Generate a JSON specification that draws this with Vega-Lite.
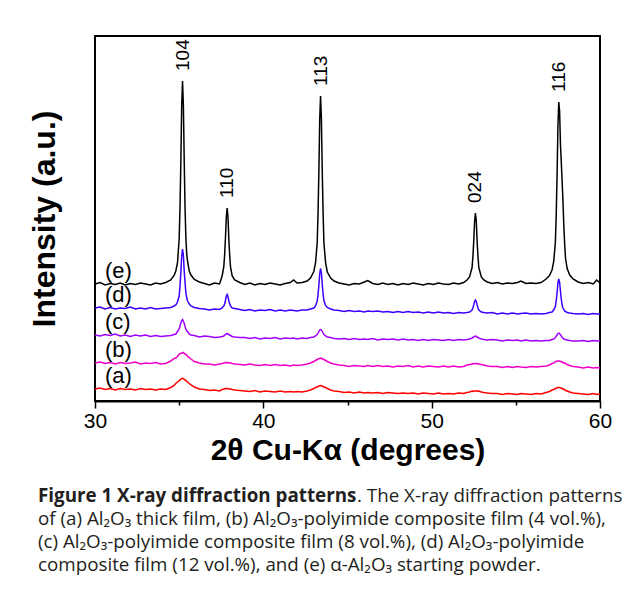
{
  "$schema": "https://vega.github.io/schema/vega-lite/v6.json",
  "background": "white",
  "padding": {"left": 27, "top": 35, "right": 0, "bottom": 0},
  "spacing": 18,
  "config": {"font": "Liberation Sans"},
  "vconcat": [
    {
      "width": 505,
      "height": 365,
      "view": {"stroke": "black", "strokeWidth": 2},
      "layer": [
        {
          "data": {"values": [
            {"x":30.0,"(a)":12,"(b)":38,"(c)":66,"(d)":93,"(e)":117},
            {"x":30.3,"(a)":13,"(b)":39,"(c)":65,"(d)":94,"(e)":118.5},
            {"x":30.6,"(a)":11.5,"(b)":37.5,"(c)":66.5,"(d)":92,"(e)":116},
            {"x":30.9,"(a)":12.5,"(b)":38.5,"(c)":65.5,"(d)":93.5,"(e)":117.5},
            {"x":31.2,"(a)":11,"(b)":37,"(c)":67,"(d)":92,"(e)":116.5},
            {"x":31.5,"(a)":12.5,"(b)":38.5,"(c)":65,"(d)":93,"(e)":118},
            {"x":31.8,"(a)":11.5,"(b)":37.5,"(c)":66,"(d)":92.5,"(e)":116},
            {"x":32.1,"(a)":12,"(b)":38,"(c)":64.5,"(d)":94,"(e)":117.5},
            {"x":32.4,"(a)":11,"(b)":39,"(c)":66,"(d)":92,"(e)":116.5},
            {"x":32.7,"(a)":12.5,"(b)":37,"(c)":65,"(d)":93,"(e)":118},
            {"x":33.0,"(a)":11.5,"(b)":38,"(c)":66,"(d)":92,"(e)":117},
            {"x":33.3,"(a)":12,"(b)":37.5,"(c)":64.5,"(d)":93.5,"(e)":116},
            {"x":33.6,"(a)":11,"(b)":38.5,"(c)":65.5,"(d)":92,"(e)":118},
            {"x":33.9,"(a)":12,"(b)":37,"(c)":64.5,"(d)":92.5,"(e)":117},
            {"x":34.2,"(a)":11.5,"(b)":37.5,"(c)":65,"(d)":93,"(e)":118.5},
            {"x":34.5,"(a)":13.5,"(b)":40,"(c)":65.5,"(d)":93.5,"(e)":121},
            {"x":34.7,"(a)":15.5,"(b)":42.5,"(c)":66.5,"(d)":95,"(e)":125.5},
            {"x":34.8,"(a)":17.5,"(b)":43,"(c)":67,"(d)":96,"(e)":130},
            {"x":34.9,"(a)":19,"(b)":44.5,"(c)":69.5,"(d)":99,"(e)":138},
            {"x":35.0,"(a)":20.5,"(b)":47,"(c)":72,"(d)":105,"(e)":162},
            {"x":35.05,"(a)":21,"(b)":47.5,"(c)":75,"(d)":115,"(e)":194},
            {"x":35.1,"(a)":22,"(b)":47.5,"(c)":78,"(d)":128,"(e)":239},
            {"x":35.15,"(a)":22.5,"(b)":48,"(c)":80.5,"(d)":145,"(e)":295},
            {"x":35.2,"(a)":22.5,"(b)":48,"(c)":81.5,"(d)":152,"(e)":320},
            {"x":35.25,"(a)":22.5,"(b)":48.5,"(c)":80,"(d)":146,"(e)":296},
            {"x":35.3,"(a)":21.5,"(b)":47.5,"(c)":77.5,"(d)":130,"(e)":240},
            {"x":35.35,"(a)":21,"(b)":47,"(c)":74.5,"(d)":118,"(e)":193},
            {"x":35.4,"(a)":20.5,"(b)":46.5,"(c)":72,"(d)":108,"(e)":162},
            {"x":35.45,"(a)":19.5,"(b)":46,"(c)":70,"(d)":103,"(e)":147},
            {"x":35.5,"(a)":19,"(b)":44.5,"(c)":69.5,"(d)":100,"(e)":139.5},
            {"x":35.6,"(a)":17.5,"(b)":43.5,"(c)":67,"(d)":97,"(e)":130},
            {"x":35.7,"(a)":16,"(b)":42,"(c)":66,"(d)":95,"(e)":126},
            {"x":35.9,"(a)":14,"(b)":39.5,"(c)":65.5,"(d)":93.5,"(e)":121.5},
            {"x":36.2,"(a)":12,"(b)":38,"(c)":64,"(d)":92.5,"(e)":119},
            {"x":36.5,"(a)":11.5,"(b)":37,"(c)":65,"(d)":92,"(e)":117.5},
            {"x":36.8,"(a)":10.5,"(b)":37,"(c)":64.5,"(d)":91,"(e)":116},
            {"x":37.1,"(a)":11,"(b)":36,"(c)":63.5,"(d)":92,"(e)":118},
            {"x":37.4,"(a)":10,"(b)":37,"(c)":64,"(d)":91.5,"(e)":117},
            {"x":37.55,"(a)":11.5,"(b)":37.5,"(c)":64.5,"(d)":93,"(e)":125},
            {"x":37.65,"(a)":12,"(b)":38,"(c)":65,"(d)":95,"(e)":134},
            {"x":37.7,"(a)":12.5,"(b)":38.5,"(c)":66,"(d)":97,"(e)":146},
            {"x":37.75,"(a)":12,"(b)":38,"(c)":66.5,"(d)":100.5,"(e)":163},
            {"x":37.8,"(a)":12.5,"(b)":38.5,"(c)":67,"(d)":105,"(e)":184},
            {"x":37.85,"(a)":12.5,"(b)":38.5,"(c)":67.5,"(d)":106.5,"(e)":193},
            {"x":37.9,"(a)":12.5,"(b)":38,"(c)":67,"(d)":104.5,"(e)":184},
            {"x":37.95,"(a)":12,"(b)":38.5,"(c)":66.5,"(d)":100,"(e)":162},
            {"x":38.0,"(a)":12,"(b)":38,"(c)":66,"(d)":97.5,"(e)":146},
            {"x":38.05,"(a)":12,"(b)":38,"(c)":65.5,"(d)":95,"(e)":134},
            {"x":38.15,"(a)":11.5,"(b)":37.5,"(c)":64.5,"(d)":93,"(e)":125},
            {"x":38.3,"(a)":11,"(b)":37,"(c)":64,"(d)":92.5,"(e)":121},
            {"x":38.6,"(a)":10.5,"(b)":36.5,"(c)":63.5,"(d)":91.5,"(e)":118.5},
            {"x":38.9,"(a)":10,"(b)":36,"(c)":63.5,"(d)":90.5,"(e)":116.5},
            {"x":39.2,"(a)":9.5,"(b)":37,"(c)":62.5,"(d)":91.5,"(e)":118},
            {"x":39.5,"(a)":10.5,"(b)":36,"(c)":63.5,"(d)":90,"(e)":116},
            {"x":39.8,"(a)":9,"(b)":35.5,"(c)":62,"(d)":91,"(e)":117.5},
            {"x":40.1,"(a)":10,"(b)":36.5,"(c)":63,"(d)":90.5,"(e)":116.5},
            {"x":40.4,"(a)":9.5,"(b)":35.5,"(c)":62.5,"(d)":91.5,"(e)":118},
            {"x":40.7,"(a)":9,"(b)":36.5,"(c)":63.5,"(d)":90,"(e)":117},
            {"x":41.0,"(a)":10,"(b)":35.5,"(c)":62,"(d)":91,"(e)":116},
            {"x":41.3,"(a)":9,"(b)":36,"(c)":63,"(d)":90,"(e)":117.5},
            {"x":41.6,"(a)":9.5,"(b)":35,"(c)":62.5,"(d)":91,"(e)":118.5},
            {"x":41.8,"(a)":9,"(b)":36,"(c)":63,"(d)":90.5,"(e)":121},
            {"x":42.0,"(a)":9.5,"(b)":35.5,"(c)":62,"(d)":90,"(e)":118},
            {"x":42.3,"(a)":9,"(b)":36,"(c)":63,"(d)":91,"(e)":118.5},
            {"x":42.6,"(a)":10,"(b)":37,"(c)":62.5,"(d)":91,"(e)":120},
            {"x":42.8,"(a)":11,"(b)":38,"(c)":63.5,"(d)":92,"(e)":123},
            {"x":43.0,"(a)":12.5,"(b)":39.5,"(c)":64,"(d)":93,"(e)":129.5},
            {"x":43.1,"(a)":13.5,"(b)":40.5,"(c)":65,"(d)":95,"(e)":138},
            {"x":43.2,"(a)":14,"(b)":41.5,"(c)":66.5,"(d)":100,"(e)":158},
            {"x":43.25,"(a)":14.5,"(b)":42,"(c)":68,"(d)":106.5,"(e)":188},
            {"x":43.3,"(a)":15,"(b)":42.5,"(c)":69.5,"(d)":116,"(e)":230},
            {"x":43.35,"(a)":15,"(b)":42.5,"(c)":71,"(d)":127.5,"(e)":282},
            {"x":43.4,"(a)":15.5,"(b)":42.5,"(c)":71.5,"(d)":132.5,"(e)":305},
            {"x":43.45,"(a)":15,"(b)":43,"(c)":71,"(d)":128,"(e)":282},
            {"x":43.5,"(a)":15,"(b)":42,"(c)":69.5,"(d)":117,"(e)":230},
            {"x":43.55,"(a)":14.5,"(b)":42,"(c)":68,"(d)":107,"(e)":188},
            {"x":43.6,"(a)":14,"(b)":41.5,"(c)":66.5,"(d)":100.5,"(e)":158},
            {"x":43.7,"(a)":13.5,"(b)":40.5,"(c)":65,"(d)":95.5,"(e)":138},
            {"x":43.8,"(a)":12.5,"(b)":39.5,"(c)":64,"(d)":93.5,"(e)":129},
            {"x":44.0,"(a)":11,"(b)":38,"(c)":63.5,"(d)":92,"(e)":123},
            {"x":44.2,"(a)":10,"(b)":37,"(c)":62.5,"(d)":91,"(e)":120},
            {"x":44.5,"(a)":9.5,"(b)":36,"(c)":62,"(d)":90.5,"(e)":118},
            {"x":44.8,"(a)":8.5,"(b)":35.5,"(c)":62.5,"(d)":89.5,"(e)":117},
            {"x":45.1,"(a)":9,"(b)":34.5,"(c)":61.5,"(d)":90.5,"(e)":116},
            {"x":45.4,"(a)":8,"(b)":35.5,"(c)":62.5,"(d)":89.5,"(e)":117.5},
            {"x":45.7,"(a)":9,"(b)":35,"(c)":61.5,"(d)":90,"(e)":117},
            {"x":46.0,"(a)":8,"(b)":34.5,"(c)":62,"(d)":89,"(e)":119},
            {"x":46.2,"(a)":8.5,"(b)":35.5,"(c)":61.5,"(d)":90,"(e)":120.5},
            {"x":46.5,"(a)":8,"(b)":34.5,"(c)":62.5,"(d)":89.5,"(e)":117.5},
            {"x":46.8,"(a)":8.5,"(b)":35.5,"(c)":61,"(d)":90,"(e)":116.5},
            {"x":47.1,"(a)":7.5,"(b)":34.5,"(c)":62,"(d)":89,"(e)":118},
            {"x":47.4,"(a)":8.5,"(b)":35,"(c)":61.5,"(d)":89.5,"(e)":116.5},
            {"x":47.7,"(a)":8,"(b)":34,"(c)":62,"(d)":88.5,"(e)":117.5},
            {"x":48.0,"(a)":7.5,"(b)":35,"(c)":61,"(d)":89.5,"(e)":116},
            {"x":48.3,"(a)":8,"(b)":34.5,"(c)":62,"(d)":88.5,"(e)":117.5},
            {"x":48.6,"(a)":7.5,"(b)":35.5,"(c)":61,"(d)":89.5,"(e)":116.5},
            {"x":48.9,"(a)":8,"(b)":34,"(c)":61.5,"(d)":88.5,"(e)":118},
            {"x":49.2,"(a)":7,"(b)":35,"(c)":60.5,"(d)":89,"(e)":117},
            {"x":49.5,"(a)":8,"(b)":34,"(c)":61.5,"(d)":88,"(e)":116},
            {"x":49.8,"(a)":7.5,"(b)":35,"(c)":60.5,"(d)":89,"(e)":117.5},
            {"x":50.1,"(a)":7,"(b)":34.5,"(c)":61.5,"(d)":88,"(e)":116.5},
            {"x":50.4,"(a)":8,"(b)":34,"(c)":61,"(d)":89,"(e)":118},
            {"x":50.7,"(a)":7,"(b)":35,"(c)":60.5,"(d)":88,"(e)":117},
            {"x":51.0,"(a)":7.5,"(b)":34,"(c)":61.5,"(d)":88.5,"(e)":116.5},
            {"x":51.3,"(a)":7,"(b)":35,"(c)":60.5,"(d)":87.5,"(e)":118},
            {"x":51.6,"(a)":8,"(b)":34,"(c)":61.5,"(d)":88.5,"(e)":117},
            {"x":51.9,"(a)":7.5,"(b)":34.5,"(c)":61,"(d)":88,"(e)":118.5},
            {"x":52.1,"(a)":8.5,"(b)":36,"(c)":61.5,"(d)":88.5,"(e)":121},
            {"x":52.25,"(a)":9,"(b)":36.5,"(c)":62,"(d)":89,"(e)":124},
            {"x":52.4,"(a)":10,"(b)":37,"(c)":63,"(d)":91,"(e)":133.5},
            {"x":52.45,"(a)":9.5,"(b)":37.5,"(c)":63.5,"(d)":93,"(e)":144.5},
            {"x":52.5,"(a)":10,"(b)":37,"(c)":64,"(d)":96,"(e)":160},
            {"x":52.55,"(a)":10,"(b)":37.5,"(c)":64.5,"(d)":99.5,"(e)":179.5},
            {"x":52.6,"(a)":10,"(b)":37.5,"(c)":65,"(d)":101,"(e)":188},
            {"x":52.65,"(a)":10,"(b)":37.5,"(c)":64.5,"(d)":99.5,"(e)":180},
            {"x":52.7,"(a)":10,"(b)":37,"(c)":64,"(d)":96,"(e)":160},
            {"x":52.75,"(a)":9.5,"(b)":37.5,"(c)":63.5,"(d)":93,"(e)":145},
            {"x":52.8,"(a)":10,"(b)":37,"(c)":63,"(d)":91,"(e)":133.5},
            {"x":52.95,"(a)":9,"(b)":36.5,"(c)":62,"(d)":89,"(e)":124},
            {"x":53.1,"(a)":8.5,"(b)":36,"(c)":61.5,"(d)":88.5,"(e)":121},
            {"x":53.3,"(a)":8,"(b)":35,"(c)":61,"(d)":88,"(e)":119},
            {"x":53.6,"(a)":7.5,"(b)":34.5,"(c)":61.5,"(d)":88.5,"(e)":117.5},
            {"x":53.9,"(a)":7.5,"(b)":34.5,"(c)":61,"(d)":87,"(e)":118.5},
            {"x":54.2,"(a)":6.5,"(b)":33.5,"(c)":60,"(d)":88,"(e)":117},
            {"x":54.5,"(a)":7.5,"(b)":34.5,"(c)":61,"(d)":87,"(e)":118},
            {"x":54.8,"(a)":7,"(b)":33.5,"(c)":60.5,"(d)":88,"(e)":117.5},
            {"x":55.1,"(a)":6.5,"(b)":34.5,"(c)":61,"(d)":87,"(e)":118.5},
            {"x":55.3,"(a)":7.5,"(b)":34,"(c)":60,"(d)":87.5,"(e)":120},
            {"x":55.6,"(a)":7,"(b)":33.5,"(c)":61,"(d)":88,"(e)":117.5},
            {"x":55.9,"(a)":6.5,"(b)":34.5,"(c)":60,"(d)":87,"(e)":118},
            {"x":56.2,"(a)":7.5,"(b)":34,"(c)":60.5,"(d)":87.5,"(e)":117.5},
            {"x":56.5,"(a)":7,"(b)":34.5,"(c)":60,"(d)":87,"(e)":118.5},
            {"x":56.8,"(a)":8.5,"(b)":35,"(c)":60.5,"(d)":87.5,"(e)":122},
            {"x":57.0,"(a)":9.5,"(b)":36,"(c)":60.5,"(d)":88.5,"(e)":125.5},
            {"x":57.15,"(a)":11,"(b)":37.5,"(c)":61.5,"(d)":89,"(e)":131},
            {"x":57.25,"(a)":11.5,"(b)":38,"(c)":62,"(d)":91,"(e)":139.5},
            {"x":57.35,"(a)":12.5,"(b)":39.5,"(c)":63.5,"(d)":94.5,"(e)":159},
            {"x":57.4,"(a)":13,"(b)":39.5,"(c)":65,"(d)":100.5,"(e)":187},
            {"x":57.45,"(a)":13,"(b)":40,"(c)":66,"(d)":108,"(e)":225.5},
            {"x":57.5,"(a)":13.5,"(b)":40,"(c)":67.5,"(d)":118,"(e)":274.5},
            {"x":57.55,"(a)":13.5,"(b)":40,"(c)":68,"(d)":122,"(e)":299},
            {"x":57.6,"(a)":13.5,"(b)":40,"(c)":67.5,"(d)":118.5,"(e)":290},
            {"x":57.65,"(a)":13,"(b)":39.5,"(c)":66,"(d)":110,"(e)":257},
            {"x":57.7,"(a)":13,"(b)":39.5,"(c)":65,"(d)":102,"(e)":239},
            {"x":57.75,"(a)":12.5,"(b)":39,"(c)":63.5,"(d)":96,"(e)":219.5},
            {"x":57.8,"(a)":12,"(b)":38.5,"(c)":63,"(d)":93,"(e)":200},
            {"x":57.85,"(a)":11.5,"(b)":38,"(c)":62,"(d)":91.5,"(e)":175.5},
            {"x":57.9,"(a)":11.5,"(b)":38,"(c)":61.5,"(d)":90,"(e)":157},
            {"x":57.95,"(a)":10.5,"(b)":37.5,"(c)":61.5,"(d)":89.5,"(e)":143},
            {"x":58.05,"(a)":10,"(b)":36.5,"(c)":61,"(d)":88.5,"(e)":132.5},
            {"x":58.2,"(a)":9,"(b)":35.5,"(c)":60.5,"(d)":88,"(e)":126},
            {"x":58.4,"(a)":8,"(b)":34.5,"(c)":60,"(d)":87.5,"(e)":122},
            {"x":58.7,"(a)":7.5,"(b)":34,"(c)":60,"(d)":87,"(e)":119},
            {"x":59.0,"(a)":7,"(b)":33,"(c)":60.5,"(d)":87.5,"(e)":117.5},
            {"x":59.3,"(a)":6.5,"(b)":34,"(c)":59.5,"(d)":86.5,"(e)":118.5},
            {"x":59.6,"(a)":7.5,"(b)":33,"(c)":60.5,"(d)":87.5,"(e)":117},
            {"x":59.8,"(a)":6.5,"(b)":33.5,"(c)":60,"(d)":87,"(e)":121},
            {"x":60.0,"(a)":7,"(b)":33,"(c)":60,"(d)":87,"(e)":118}
          ]},
          "transform": [{"fold": ["(a)", "(b)", "(c)", "(d)", "(e)"], "as": ["series", "intensity"]}],
          "layer": [
            {
              "mark": {"type": "line", "strokeWidth": 1.5, "clip": true},
              "encoding": {
                "x": {
                  "field": "x", "type": "quantitative",
                  "scale": {"domain": [30, 60], "nice": false, "zero": false},
                  "axis": {
                    "title": "2θ Cu-Kα (degrees)",
                    "values": [30, 35, 40, 45, 50, 55, 60],
                    "labelExpr": "datum.value % 10 === 0 ? datum.label : ''",
                    "labelFlush": false,
                    "labelOverlap": false,
                    "grid": false,
                    "domainColor": "black",
                    "domainWidth": 2,
                    "tickColor": "black",
                    "tickWidth": 1.5,
                    "tickSize": {"condition": {"test": "datum.value % 10 === 0", "value": 7}, "value": 4},
                    "labelFont": "Liberation Sans",
                    "labelFontSize": 21,
                    "labelColor": "black",
                    "labelPadding": 2,
                    "titleFont": "Liberation Sans",
                    "titleFontSize": 30,
                    "titleFontWeight": "bold",
                    "titleColor": "black",
                    "titlePadding": 4
                  }
                },
                "y": {
                  "field": "intensity", "type": "quantitative",
                  "scale": {"domain": [0, 365], "nice": false},
                  "axis": {
                    "title": "Intensity (a.u.)",
                    "labels": false,
                    "ticks": false,
                    "domain": false,
                    "grid": false,
                    "titleFont": "Liberation Sans",
                    "titleFontSize": 32,
                    "titleFontWeight": "bold",
                    "titleColor": "black",
                    "titlePadding": 34
                  }
                },
                "color": {
                  "field": "series", "type": "nominal",
                  "scale": {"domain": ["(a)", "(b)", "(c)", "(d)", "(e)"], "range": ["#ff0000", "#f000c8", "#a000ff", "#3d00ff", "#000000"]},
                  "legend": null
                }
              }
            },
            {
              "transform": [{"filter": "datum.x === 30"}],
              "mark": {"type": "text", "align": "left", "baseline": "middle", "dx": 10, "dy": -13, "fontSize": 22, "font": "Liberation Sans", "color": "black"},
              "encoding": {
                "x": {"field": "x", "type": "quantitative"},
                "y": {"field": "intensity", "type": "quantitative"},
                "text": {"field": "series"}
              }
            }
          ]
        },
        {
          "data": {"values": [
            {"hkl": "104", "x": 35.2, "peak": 320},
            {"hkl": "110", "x": 37.85, "peak": 193},
            {"hkl": "113", "x": 43.4, "peak": 305},
            {"hkl": "024", "x": 52.6, "peak": 188},
            {"hkl": "116", "x": 57.55, "peak": 299}
          ]},
          "mark": {"type": "text", "angle": 270, "align": "left", "baseline": "middle", "dx": 10, "fontSize": 19, "font": "Liberation Sans", "color": "black"},
          "encoding": {
            "x": {"field": "x", "type": "quantitative"},
            "y": {"field": "peak", "type": "quantitative"},
            "text": {"field": "hkl"}
          }
        }
      ]
    },
    {
      "width": 590,
      "height": 92,
      "view": {"stroke": null},
      "data": {"values": [
        {"line": 1, "part": "bold", "text": "Figure 1 X-ray diffraction patterns"},
        {"line": 1, "part": "rest", "text": ". The X-ray diffraction patterns"},
        {"line": 2, "part": "plain", "text": "of (a) Al₂O₃ thick film, (b) Al₂O₃-polyimide composite film (4 vol.%),"},
        {"line": 3, "part": "plain", "text": "(c) Al₂O₃-polyimide composite film (8 vol.%), (d) Al₂O₃-polyimide"},
        {"line": 4, "part": "plain", "text": "composite film (12 vol.%), and (e) α-Al₂O₃ starting powder."}
      ]},
      "encoding": {
        "x": {"value": 0},
        "y": {"field": "line", "type": "ordinal", "axis": null, "scale": {"type": "point", "padding": 0.5}},
        "text": {"field": "text"}
      },
      "layer": [
        {
          "transform": [{"filter": "datum.part === 'bold'"}],
          "mark": {"type": "text", "align": "left", "baseline": "middle", "dx": -57, "font": "Open Sans", "fontSize": 18.8, "fontWeight": "bold", "color": "#231f20"}
        },
        {
          "transform": [{"filter": "datum.part === 'rest'"}],
          "mark": {"type": "text", "align": "left", "baseline": "middle", "dx": 262, "font": "Open Sans", "fontSize": 18.8, "color": "#231f20"}
        },
        {
          "transform": [{"filter": "datum.part === 'plain'"}],
          "mark": {"type": "text", "align": "left", "baseline": "middle", "dx": -57, "font": "Open Sans", "fontSize": 18.8, "color": "#231f20"}
        }
      ]
    }
  ]
}
